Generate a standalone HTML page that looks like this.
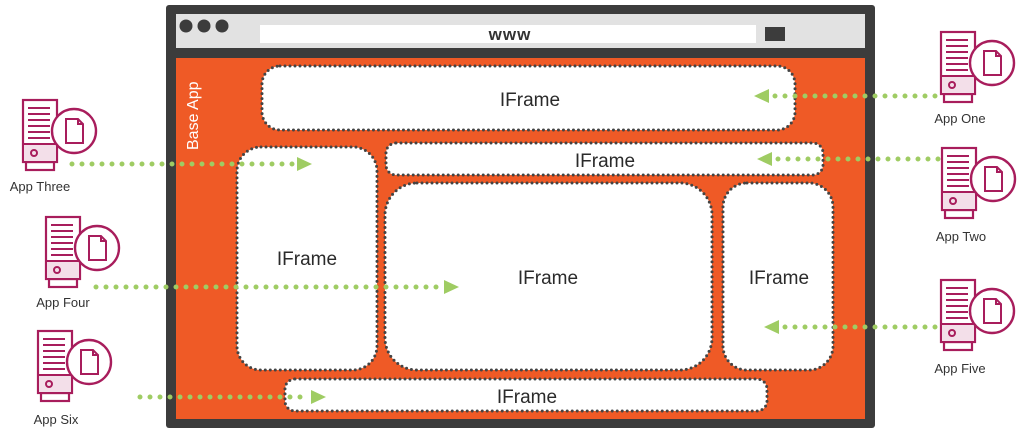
<!DOCTYPE html>
<html><head><style>
html,body{margin:0;padding:0;background:#fff;}
svg{display:block;}
text{font-family:"Liberation Sans",sans-serif;}
</style></head><body>
<svg width="1024" height="441" viewBox="0 0 1024 441" xmlns="http://www.w3.org/2000/svg">
<defs>
<g id="srv">
  <rect x="3" y="62" width="28" height="8" fill="#fff" stroke="#a81d5c" stroke-width="2.2"/>
  <rect x="0" y="0" width="34" height="62" fill="#fff" stroke="#a81d5c" stroke-width="2.2"/>
  <rect x="1" y="44" width="32" height="17" fill="#f3dfe9"/>
  <line x1="0" y1="44" x2="34" y2="44" stroke="#a81d5c" stroke-width="2"/>
  <g stroke="#a81d5c" stroke-width="2">
    <line x1="5" y1="8" x2="27" y2="8"/><line x1="5" y1="14" x2="27" y2="14"/>
    <line x1="5" y1="20" x2="27" y2="20"/><line x1="5" y1="26" x2="27" y2="26"/>
    <line x1="5" y1="32" x2="27" y2="32"/><line x1="5" y1="38" x2="27" y2="38"/>
  </g>
  <circle cx="11" cy="53" r="3" fill="none" stroke="#a81d5c" stroke-width="2"/>
  <circle cx="51" cy="31" r="22" fill="#fff" stroke="#a81d5c" stroke-width="2.4"/>
  <path d="M43 19 L55 19 L60 24 L60 43 L43 43 Z M55 19 L55 24 L60 24" fill="none" stroke="#a81d5c" stroke-width="2"/>
</g>
</defs>

<rect x="166" y="5" width="709" height="423" rx="3" fill="#3c3c3c"/>
<rect x="176" y="14" width="689" height="34" fill="#e2e2e2"/>
<circle cx="186" cy="26" r="6.5" fill="#3c3c3c"/><circle cx="204" cy="26" r="6.5" fill="#3c3c3c"/><circle cx="222" cy="26" r="6.5" fill="#3c3c3c"/>
<rect x="260" y="25" width="496" height="18" fill="#fff"/>
<text x="510" y="40" font-size="17" text-anchor="middle" fill="#333" font-weight="bold" letter-spacing="1">www</text>
<rect x="765" y="27" width="20" height="14" fill="#3c3c3c"/>
<rect x="176" y="58" width="689" height="361" fill="#ef5a26"/>
<text transform="translate(198,150) rotate(-90)" font-size="16" fill="#fff">Base App</text>

<g fill="#fff" stroke="#444" stroke-width="3" stroke-dasharray="0 5" stroke-linecap="round">
  <rect x="262" y="66" width="533" height="64" rx="18"/>
  <rect x="386" y="143" width="437" height="32" rx="10"/>
  <rect x="237" y="147" width="140" height="223" rx="24"/>
  <rect x="385" y="183" width="327" height="187" rx="32"/>
  <rect x="723" y="183" width="110" height="187" rx="24"/>
  <rect x="285" y="379" width="482" height="32" rx="10"/>
</g>
<g font-size="19" fill="#2a2a2a" text-anchor="middle">
  <text x="530" y="106">IFrame</text>
  <text x="605" y="167">IFrame</text>
  <text x="307" y="265">IFrame</text>
  <text x="548" y="284">IFrame</text>
  <text x="779" y="284">IFrame</text>
  <text x="527" y="403">IFrame</text>
</g>

<g stroke="#9fcc63" stroke-width="5" stroke-dasharray="0 10" stroke-linecap="round">
  <line x1="72" y1="164" x2="296" y2="164"/>
  <line x1="96" y1="287" x2="442" y2="287"/>
  <line x1="140" y1="397" x2="310" y2="397"/>
  <line x1="935" y1="96" x2="770" y2="96"/>
  <line x1="938" y1="159" x2="773" y2="159"/>
  <line x1="935" y1="327" x2="780" y2="327"/>
</g>
<g fill="#9fcc63">
  <path d="M297 157 L312 164 L297 171 Z"/>
  <path d="M444 280 L459 287 L444 294 Z"/>
  <path d="M311 390 L326 397 L311 404 Z"/>
  <path d="M769 89 L754 96 L769 103 Z"/>
  <path d="M772 152 L757 159 L772 166 Z"/>
  <path d="M779 320 L764 327 L779 334 Z"/>
</g>

<use href="#srv" x="941" y="32"/>
<use href="#srv" x="942" y="148"/>
<use href="#srv" x="941" y="280"/>
<use href="#srv" x="23" y="100"/>
<use href="#srv" x="46" y="217"/>
<use href="#srv" x="38" y="331"/>
<g font-size="13" fill="#333" text-anchor="middle">
  <text x="960" y="123">App One</text>
  <text x="961" y="241">App Two</text>
  <text x="960" y="373">App Five</text>
  <text x="40" y="191">App Three</text>
  <text x="63" y="307">App Four</text>
  <text x="56" y="424">App Six</text>
</g>
</svg>
</body></html>
